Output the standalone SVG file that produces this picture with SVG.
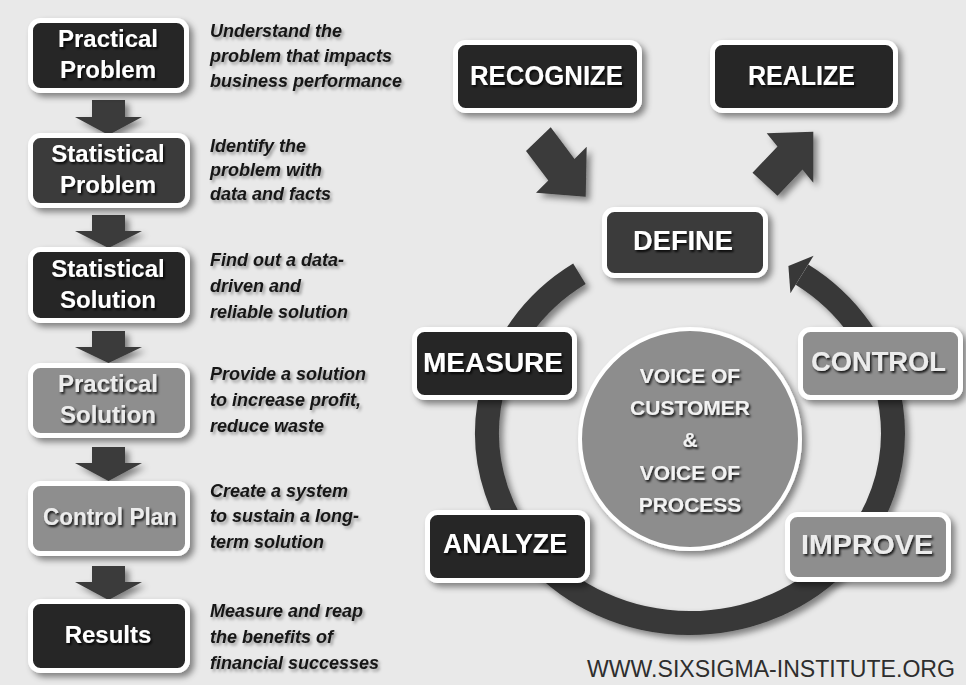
<svg xmlns="http://www.w3.org/2000/svg" width="966" height="685" viewBox="0 0 966 685">
  <defs>
    <filter id="sh" x="-20%" y="-20%" width="150%" height="160%">
      <feDropShadow dx="4" dy="4" stdDeviation="3" flood-color="#000" flood-opacity="0.45"/>
    </filter>
    <filter id="tsh" x="-10%" y="-30%" width="130%" height="170%">
      <feDropShadow dx="1.5" dy="2" stdDeviation="1" flood-color="#000" flood-opacity="0.85"/>
    </filter>
    <filter id="dsh" x="-10%" y="-30%" width="130%" height="170%">
      <feDropShadow dx="2" dy="2.5" stdDeviation="1.5" flood-color="#000" flood-opacity="0.35"/>
    </filter>
    <style>
      .box { stroke: #ffffff; stroke-width: 5; filter: url(#sh); }
      .dark { fill: #282828; }
      .mid { fill: #3a3a3a; }
      .gray { fill: #8e8e8e; }
      .lbl { font-family: "Liberation Sans", Arial, sans-serif; font-weight: bold; fill: #ffffff; text-anchor: middle; filter: url(#tsh); }
      .lgray { fill: #ececec; }
      .l24 { font-size: 24px; }
      .l27 { font-size: 27px; }
      .desc { font-family: "Liberation Sans", Arial, sans-serif; font-weight: bold; font-style: italic; font-size: 18px; fill: #151515; filter: url(#dsh); }
      .arrow { fill: #3a3a3a; filter: url(#sh); }
      .ring { fill: none; stroke: #383838; stroke-width: 24; stroke-linecap: butt; filter: url(#sh); }
      .ctr { font-family: "Liberation Sans", Arial, sans-serif; font-weight: bold; font-size: 21px; fill: #f2f2f2; text-anchor: middle; filter: url(#tsh); }
      .web { font-family: "Liberation Sans", Arial, sans-serif; font-size: 23px; fill: #2e2e2e; }
    </style>
  </defs>

  <rect x="0" y="0" width="966" height="685" fill="#e9e9e9"/>

  <!-- connectors -->
  <g id="connectors">
    <polygon class="arrow" points="92,100 125,100 125,117 142,117 108.5,135 75,117 92,117"/>
    <polygon class="arrow" points="92,215 125,215 125,231 142,231 108.5,248 75,231 92,231"/>
    <polygon class="arrow" points="92,331 125,331 125,347 142,347 108.5,363 75,347 92,347"/>
    <polygon class="arrow" points="92,447 125,447 125,463 142,463 108.5,481 75,463 92,463"/>
    <polygon class="arrow" points="92,566 125,566 125,582 142,582 108.5,600 75,582 92,582"/>
    <polygon class="arrow" points="526,151 550.7,127.3 574.5,158.9 586.7,146.7 585.7,196.7 536,192.7 548.3,180.5"/>
    <polygon class="arrow" points="752.5,172.7 777.5,146.5 766.7,133.3 813.3,131.7 813.3,182.7 802.5,169.5 777.5,195.7"/>
    <path class="ring" d="M 579.4 273.7 A 203 190 0 1 0 802.0 274.6"/>
    <polygon fill="#383838" points="788.4,266.1 813.6,255.8 790.4,293.2"/>
  </g>

  <!-- left column -->
  <g id="practical-problem">
    <rect class="box dark" x="30.5" y="20.5" width="156" height="70" rx="10"/>
    <text class="lbl l24" x="108" y="47">Practical</text>
    <text class="lbl l24" x="108" y="78">Problem</text>
  </g>
  <g id="statistical-problem">
    <rect class="box mid" x="30.5" y="135.5" width="157" height="70" rx="10"/>
    <text class="lbl l24" x="108" y="162">Statistical</text>
    <text class="lbl l24" x="108" y="193">Problem</text>
  </g>
  <g id="statistical-solution">
    <rect class="box dark" x="30.5" y="249.5" width="157" height="71" rx="10"/>
    <text class="lbl l24" x="108" y="277">Statistical</text>
    <text class="lbl l24" x="108" y="308">Solution</text>
  </g>
  <g id="practical-solution">
    <rect class="box gray" x="30.5" y="365.5" width="157" height="70" rx="10"/>
    <text class="lbl l24 lgray" x="108" y="392">Practical</text>
    <text class="lbl l24 lgray" x="108" y="423">Solution</text>
  </g>
  <g id="control-plan">
    <rect class="box gray" x="30.5" y="483.5" width="157" height="70" rx="10"/>
    <text class="lbl l24 lgray" x="110" y="525" textLength="134" lengthAdjust="spacingAndGlyphs">Control Plan</text>
  </g>
  <g id="results">
    <rect class="box dark" x="30.5" y="601.5" width="157" height="69" rx="10"/>
    <text class="lbl l24" x="108" y="643">Results</text>
  </g>

  <!-- descriptions -->
  <g id="descriptions">
    <text class="desc" x="210" y="37">Understand the</text>
    <text class="desc" x="210" y="62">problem that impacts</text>
    <text class="desc" x="210" y="87">business performance</text>
    <text class="desc" x="210" y="152">Identify the</text>
    <text class="desc" x="210" y="176">problem with</text>
    <text class="desc" x="210" y="200">data and facts</text>
    <text class="desc" x="210" y="266">Find out a data-</text>
    <text class="desc" x="210" y="292">driven and</text>
    <text class="desc" x="210" y="318">reliable solution</text>
    <text class="desc" x="210" y="380">Provide a solution</text>
    <text class="desc" x="210" y="406">to increase profit,</text>
    <text class="desc" x="210" y="432">reduce waste</text>
    <text class="desc" x="210" y="497">Create a system</text>
    <text class="desc" x="210" y="522">to sustain a long-</text>
    <text class="desc" x="210" y="548">term solution</text>
    <text class="desc" x="210" y="617">Measure and reap</text>
    <text class="desc" x="210" y="643">the benefits of</text>
    <text class="desc" x="210" y="669">financial successes</text>
  </g>

  <!-- right side -->
  <g id="recognize">
    <rect class="box dark" x="455.5" y="42.5" width="184" height="68" rx="10"/>
    <text class="lbl l27" x="546.5" y="85" textLength="153" lengthAdjust="spacingAndGlyphs">RECOGNIZE</text>
  </g>
  <g id="realize">
    <rect class="box dark" x="712.5" y="42.5" width="183" height="68" rx="10"/>
    <text class="lbl l27" x="801.5" y="85" textLength="107" lengthAdjust="spacingAndGlyphs">REALIZE</text>
  </g>
  <g id="define">
    <rect class="box mid" x="604.5" y="209.5" width="161" height="66" rx="10"/>
    <text class="lbl l27" x="683" y="250" textLength="100" lengthAdjust="spacingAndGlyphs">DEFINE</text>
  </g>
  <g id="measure">
    <rect class="box dark" x="414.5" y="329.5" width="160" height="68" rx="10"/>
    <text class="lbl l27" x="493" y="372" textLength="140" lengthAdjust="spacingAndGlyphs">MEASURE</text>
  </g>
  <g id="control">
    <rect class="box gray" x="800.5" y="329.5" width="160" height="68" rx="10"/>
    <text class="lbl l27 lgray" x="878.5" y="371" textLength="135" lengthAdjust="spacingAndGlyphs">CONTROL</text>
  </g>
  <g id="analyze">
    <rect class="box dark" x="427.5" y="512.5" width="160" height="68" rx="10"/>
    <text class="lbl l27" x="505" y="553" textLength="124" lengthAdjust="spacingAndGlyphs">ANALYZE</text>
  </g>
  <g id="improve">
    <rect class="box gray" x="787.5" y="514.5" width="161" height="65" rx="10"/>
    <text class="lbl l27 lgray" x="867" y="554" textLength="132" lengthAdjust="spacingAndGlyphs">IMPROVE</text>
  </g>
  <g id="voice">
    <circle cx="690" cy="439" r="110" fill="#8d8d8d" stroke="#ffffff" stroke-width="4" filter="url(#sh)"/>
    <text class="ctr" x="690" y="383">VOICE OF</text>
    <text class="ctr" x="690" y="415">CUSTOMER</text>
    <text class="ctr" x="690" y="447">&amp;</text>
    <text class="ctr" x="690" y="480">VOICE OF</text>
    <text class="ctr" x="690" y="512">PROCESS</text>
  </g>

  <text class="web" x="587" y="677" textLength="368" lengthAdjust="spacingAndGlyphs">WWW.SIXSIGMA-INSTITUTE.ORG</text>
</svg>
